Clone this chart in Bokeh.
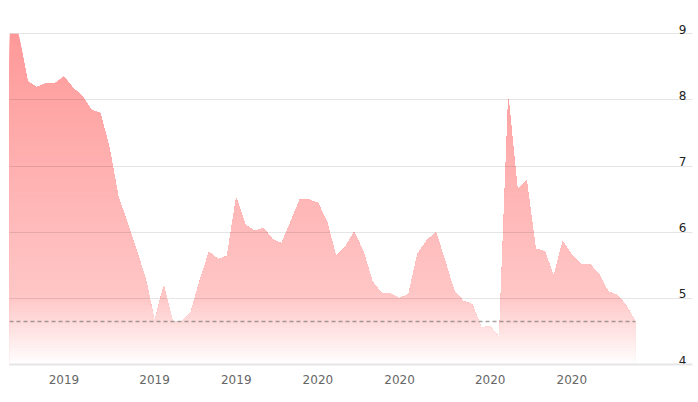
import numpy as np
from bokeh.plotting import figure
from bokeh.models import Range1d, FixedTicker, Grid, ColumnDataSource
from bokeh.core.properties import value
from bokeh.embed import file_html
from bokeh.resources import INLINE

# ---- data ----
values = [9.00, 9.00, 8.28, 8.19, 8.25, 8.25, 8.35, 8.18, 8.06, 7.85,
          7.80, 7.28, 6.53, 6.14, 5.72, 5.30, 4.65, 5.19, 4.65, 4.65,
          4.79, 5.27, 5.70, 5.59, 5.64, 6.52, 6.11, 6.02, 6.06, 5.89,
          5.83, 6.15, 6.49, 6.49, 6.44, 6.15, 5.63, 5.77, 6.00, 5.71,
          5.25, 5.08, 5.07, 5.00, 5.06, 5.67, 5.87, 6.00, 5.57, 5.12,
          4.96, 4.91, 4.56, 4.58, 4.41, 8.02, 6.64, 6.78, 5.75, 5.71,
          5.33, 5.86, 5.65, 5.51, 5.51, 5.36, 5.10, 5.05, 4.89, 4.65]
x_tick_positions = [6, 16, 25, 34, 43, 53, 62]
x_tick_labels = ["2019", "2019", "2019", "2020", "2020", "2020", "2020"]
y_ticks = [4, 5, 6, 7, 8, 9]
y_tick_labels = ["4", "5", "6", "7", "8", "9"]

# ---- style ----
Y_MIN, Y_MAX = 4, 9.231
X_MAX = 75.3
GRAD_STOPS = [0.0, 0.8, 1.0]
GRAD_ALPHA = [0.40, 0.22, 0.0]
N_BANDS = 100

xs = np.arange(len(values), dtype=float)
ys = np.array(values, dtype=float)

p = figure(width=694, height=394,
           x_range=Range1d(0, X_MAX), y_range=Range1d(Y_MIN, Y_MAX),
           output_backend="svg", toolbar_location=None,
           y_axis_location=None,
           min_border_left=9, min_border_right=2,
           min_border_top=18, min_border_bottom=30)
p.outline_line_color = None
p.background_fill_color = "white"
p.border_fill_color = "white"
p.xgrid.visible = False
p.ygrid.visible = False


def clipped_curve(level):
    px = [xs[0]]
    py = [min(ys[0], level)]
    for i in range(len(xs) - 1):
        x0, y0, x1, y1 = xs[i], ys[i], xs[i + 1], ys[i + 1]
        if (y0 - level) * (y1 - level) < 0:
            xc = x0 + (level - y0) / (y1 - y0) * (x1 - x0)
            px.append(xc)
            py.append(level)
        px.append(x1)
        py.append(min(y1, level))
    return px, py


top = ys.max()
edges = np.linspace(Y_MIN, top, N_BANDS + 1)
for j in range(N_BANDS, 0, -1):
    level = edges[j]
    mid = 0.5 * (edges[j - 1] + edges[j])
    t = (top - mid) / (top - Y_MIN)
    a = float(np.interp(t, GRAD_STOPS, GRAD_ALPHA))
    c = int(round(255 - 255 * a))
    color = "#ff%02x%02x" % (c, c)
    px, py = clipped_curve(level)
    p.varea(x=px, y1=[Y_MIN] * len(px), y2=py, fill_color=color, fill_alpha=1.0)

# dashed line at last value
p.line(x=[xs[0], xs[-1]], y=[ys[-1], ys[-1]], line_color="#666666", line_alpha=0.6,
       line_width=1.5, line_dash="4 3")

grid = Grid(dimension=1, ticker=FixedTicker(ticks=y_ticks),
            grid_line_color="black", grid_line_alpha=0.1, grid_line_width=1,
            level="annotation")
p.add_layout(grid, "center")

# y tick labels drawn inside the plot at the right, sitting on the grid lines
src = ColumnDataSource(dict(x=[X_MAX] * len(y_ticks), y=y_ticks, text=y_tick_labels))
p.text(x="x", y="y", text="text", source=src, text_align="right",
       text_baseline="bottom", x_offset=-6, y_offset=0,
       text_font=value("DejaVu Sans"), text_font_size="12px", text_color="#222222")

ax = p.xaxis[0]
ax.ticker = FixedTicker(ticks=x_tick_positions)
ax.major_label_overrides = {k: v for k, v in zip(x_tick_positions, x_tick_labels)}
ax.axis_line_color = "#e6e6e6"
ax.axis_line_width = 2
ax.major_tick_line_color = None
ax.minor_tick_line_color = None
ax.major_tick_out = 0
ax.major_tick_in = 0
ax.major_label_standoff = 10
ax.major_label_text_font = "DejaVu Sans"
ax.major_label_text_font_size = "12px"
ax.major_label_text_color = "#666666"

open("out.html", "w").write(file_html(p, INLINE))
